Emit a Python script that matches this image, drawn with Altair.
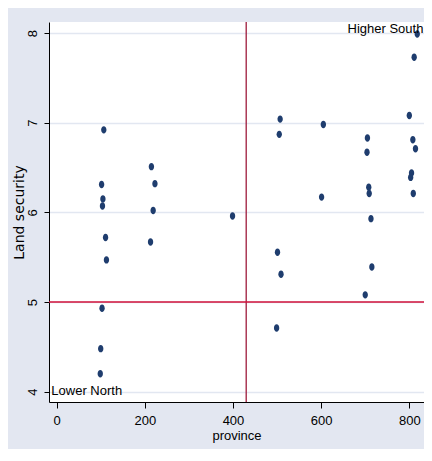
import altair as alt
import pandas as pd

province = [107, 102, 105, 104, 111, 113, 103, 100, 99,
            215, 223, 219, 213, 399,
            507, 505, 501, 509, 499,
            605, 601,
            705, 704, 708, 709, 713, 715, 700,
            818, 811, 800, 808, 814, 805, 803, 809]
land_security = [6.92, 6.31, 6.15, 6.07, 5.72, 5.47, 4.93, 4.48, 4.20,
                 6.51, 6.32, 6.02, 5.67, 5.96,
                 7.04, 6.87, 5.555, 5.31, 4.71,
                 6.98, 6.17,
                 6.83, 6.67, 6.28, 6.21, 5.93, 5.39, 5.08,
                 7.99, 7.73, 7.08, 6.81, 6.71, 6.44, 6.39, 6.21]

x_ticks = [0, 200, 400, 600, 800]
y_ticks = [4, 5, 6, 7, 8]
vline_x = [430]
hline_y = [5]
ann_labels = ["Higher South", "Lower North"]
ann_x = [832, -12]
ann_y = [8.05, 4.01]

FONT = "Liberation Sans Narrow, Liberation Sans, Arial, sans-serif"
ELLIPSE = "M 0 -1 A 0.72 1 0 1 1 0 1 A 0.72 1 0 1 1 0 -1 Z"

df = pd.DataFrame({"province": province, "land": land_security})

xscale = alt.Scale(domain=[-17.3, 833.3], nice=False, zero=False)
yscale = alt.Scale(domain=[3.885, 8.123], nice=False, zero=False)

points = alt.Chart(df).mark_point(
    filled=True, shape=ELLIPSE, size=55, color="#1F3D6E", opacity=1
).encode(
    x=alt.X("province:Q", scale=xscale, title="province",
            axis=alt.Axis(values=x_ticks, grid=False, format="d",
                          domainColor="#000000", tickColor="#000000", tickSize=6,
                          labelPadding=6, labelFont=FONT, labelFontSize=13,
                          labelColor="#000000",
                          titleFont=FONT, titleFontSize=13, titleFontWeight="normal",
                          titleColor="#000000", titlePadding=2)),
    y=alt.Y("land:Q", scale=yscale, title="Land security",
            axis=alt.Axis(values=y_ticks, grid=True, format="d",
                          gridColor="#E2E7F1", gridWidth=1.5,
                          domainColor="#000000", tickColor="#000000", tickSize=5,
                          labelAngle=270, labelAlign="center", labelBaseline="bottom",
                          labelPadding=5, labelFont=FONT, labelFontSize=13,
                          labelColor="#000000",
                          titleFont="DejaVu Sans", titleFontSize=14,
                          titleFontWeight="normal", titleColor="#000000",
                          titlePadding=0)),
)

vline = alt.Chart(pd.DataFrame({"x": vline_x})).mark_rule(
    color="#9E1B3C", strokeWidth=1.3
).encode(x=alt.X("x:Q", scale=xscale))

hline = alt.Chart(pd.DataFrame({"y": hline_y})).mark_rule(
    color="#D0103A", strokeWidth=1.5
).encode(y=alt.Y("y:Q", scale=yscale))

ann = pd.DataFrame({"label": ann_labels, "x": ann_x, "y": ann_y})

text_hs = alt.Chart(ann.iloc[[0]]).mark_text(
    align="right", baseline="middle", font=FONT, fontSize=13, color="#000000"
).encode(x=alt.X("x:Q", scale=xscale), y=alt.Y("y:Q", scale=yscale), text="label:N")

text_ln = alt.Chart(ann.iloc[[1]]).mark_text(
    align="left", baseline="middle", font=FONT, fontSize=13, color="#000000"
).encode(x=alt.X("x:Q", scale=xscale), y=alt.Y("y:Q", scale=yscale), text="label:N")

chart = alt.layer(points, vline, hline, text_hs, text_ln).properties(
    width=375, height=380,
    background="#E3E7F1",
    autosize=alt.AutoSizeParams(type="none"),
    padding={"left": 41, "top": 14, "right": 0, "bottom": 47},
).configure_view(fill="#FFFFFF", stroke=None)

chart.save("out.html", embed_options={"renderer": "svg", "actions": False})
